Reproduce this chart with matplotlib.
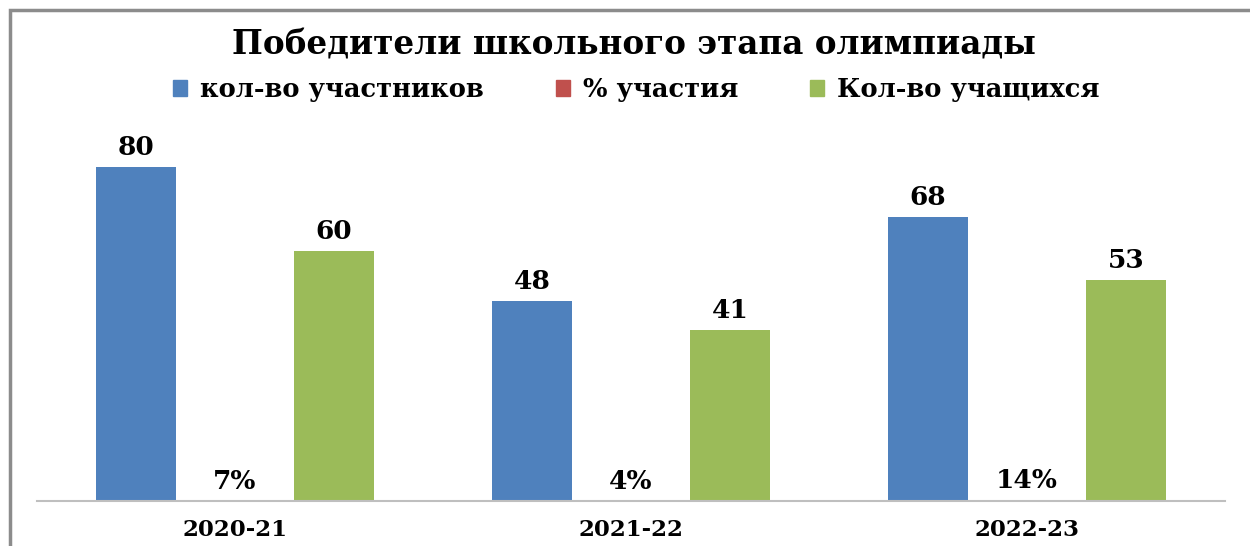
import numpy as np
import matplotlib.pyplot as plt
from matplotlib.patches import Rectangle, Patch

# data
years = ["2020-21", "2021-22", "2022-23"]
participants = [80, 48, 68]          # кол-во участников
share = [0.07, 0.04, 0.14]           # % участия
students = [60, 41, 53]              # Кол-во учащихся

c_blue = "#4F81BD"
c_red = "#C0504D"
c_green = "#9BBB59"

plt.rcParams['font.family'] = ['DejaVu Serif']
plt.rcParams['font.weight'] = 'bold'

fig = plt.figure(figsize=(12.5, 5.46), dpi=100)
ax = fig.add_axes([0.0296, 0.0824, 0.9504, 0.6882])

x = np.arange(len(years))
w = 0.2
b1 = ax.bar(x - 0.25, participants, w, color=c_blue)
b2 = ax.bar(x, share, w, color=c_red)
b3 = ax.bar(x + 0.25, students, w, color=c_green)

lab_kw = dict(fontsize=19, fontweight='bold', padding=5)
ax.bar_label(b1, labels=[str(v) for v in participants], **lab_kw)
ax.bar_label(b2, labels=[f"{round(v*100)}%" for v in share], **lab_kw)
ax.bar_label(b3, labels=[str(v) for v in students], **lab_kw)

ax.set_xlim(-0.5, 2.5)
ax.set_ylim(0, 90)
ax.set_xticks(x)
ax.set_xticklabels(years, fontsize=16.5, fontweight='bold')
ax.tick_params(axis='x', length=0, pad=13)
ax.set_yticks([])
for s in ['left', 'right', 'top']:
    ax.spines[s].set_visible(False)
ax.spines['bottom'].set_color('#BFBFBF')
ax.spines['bottom'].set_linewidth(1.5)

fig.text(0.507, 0.918, "Победители школьного этапа олимпиады",
         ha='center', va='center', fontsize=23.5, fontweight='bold')

handles = [Patch(color=c_blue), Patch(color=c_red), Patch(color=c_green)]
fig.legend(handles, ["кол-во участников", "% участия", "Кол-во учащихся"],
           loc='center', bbox_to_anchor=(0.509, 0.836), ncol=3, frameon=False,
           fontsize=18.5, handlelength=0.55, handleheight=0.55, handletextpad=0.5,
           columnspacing=2.8)

# chart frame (only left and top edges are inside the picture)
fig.patches.append(Rectangle((9.5 / 1250, -0.1), 1.2, 1.1 - 10.5 / 546,
                             transform=fig.transFigure, fill=False,
                             edgecolor='#8C8C8C', linewidth=2.5, clip_on=False))

fig.savefig("out.png", dpi=100)
